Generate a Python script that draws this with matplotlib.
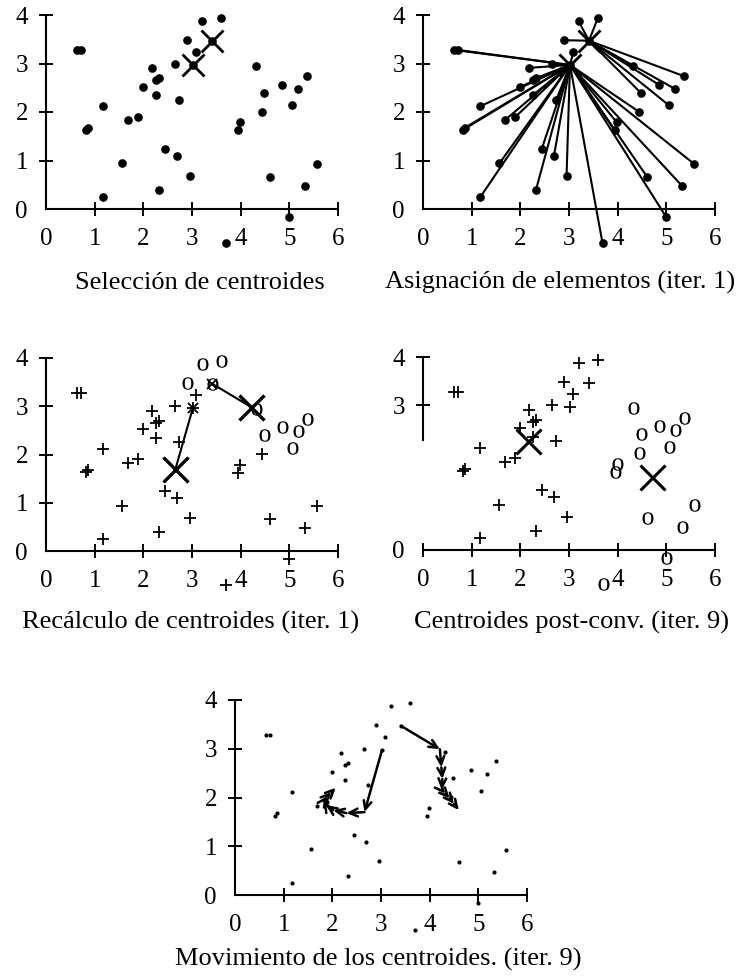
import numpy as np
import matplotlib
matplotlib.use("Agg")
import matplotlib.pyplot as plt
from matplotlib.textpath import TextPath
from matplotlib.font_manager import FontProperties
from matplotlib.path import Path

plt.rcParams['font.family'] = ['Liberation Serif', 'DejaVu Serif']

# ---------------- data ----------------
pts_x = [0.64, 0.71, 0.82, 0.87, 1.18, 1.18, 1.57, 1.68, 1.90, 2.00,
         2.18, 2.25, 2.33, 2.26, 2.32, 2.44, 2.65, 2.74, 2.69, 2.89,
         2.95, 3.09, 3.20, 3.59, 3.69, 3.94, 3.98, 4.32, 4.43, 4.47,
         4.60, 4.85, 5.05, 5.17, 5.00, 5.32, 5.36, 5.57, 3.02, 3.41]
pts_y = [3.28, 3.28, 1.63, 1.68, 2.12, 0.25, 0.94, 1.83, 1.90, 2.52,
         2.91, 2.66, 2.70, 2.35, 0.39, 1.24, 3.00, 2.25, 1.09, 3.48,
         0.69, 3.24, 3.87, 3.93, -0.71, 1.62, 1.79, 2.94, 2.01, 2.40,
         0.67, 2.56, 2.14, 2.48, -0.17, 0.48, 2.74, 0.93, 2.97, 3.47]

init_cx = [3.02, 3.41]
init_cy = [2.97, 3.47]
iter1_cx = [2.66, 4.22]
iter1_cy = [1.70, 2.98]
final_cx = [2.16, 4.70]
final_cy = [2.26, 1.52]

pathA_x = [3.02, 2.66, 2.29, 2.02, 1.87, 1.82, 1.90, 1.98, 2.07]
pathA_y = [2.97, 1.70, 1.68, 1.74, 1.84, 1.92, 2.03, 2.11, 2.20]
pathB_x = [3.41, 4.21, 4.24, 4.26, 4.25, 4.32, 4.41, 4.50, 4.60]
pathB_y = [3.47, 2.99, 2.62, 2.38, 2.16, 2.08, 1.98, 1.87, 1.74]

x_ticks = [0, 1, 2, 3, 4, 5, 6]
y_ticks = [0, 1, 2, 3, 4]

captions = ["Selección de centroides",
            "Asignación de elementos (iter. 1)",
            "Recálculo de centroides (iter. 1)",
            "Centroides post-conv. (iter. 9)",
            "Movimiento de los centroides. (iter. 9)"]

X = np.array(pts_x)
Y = np.array(pts_y)


def assign(cx, cy):
    d = (X[:, None] - np.array(cx)[None, :]) ** 2 + (Y[:, None] - np.array(cy)[None, :]) ** 2
    return np.argmin(d, axis=1)


# serif letter "o" as marker
fp = FontProperties(family='Liberation Serif')
tp = TextPath((0, 0), 'o', prop=fp, size=10)
verts = tp.vertices.copy()
verts -= np.array([(verts[:, 0].max() + verts[:, 0].min()) / 2,
                   (verts[:, 1].max() + verts[:, 1].min()) / 2])
o_marker = Path(verts, tp.codes)

# ---------------- figure ----------------
W, H = 746, 976
fig = plt.figure(figsize=(W / 100, H / 100), dpi=100)

XLIM = (-0.35, 6.3)
YLIM = (-0.95, 4.2)
TICKFS = 18
CAPFS = 19


def make_axes(x0, x6, y0, y4, ytk=None, ybounds=(0, 4), hide_x0=True):
    ppx = (x6 - x0) / 6.0
    ppy = (y0 - y4) / 4.0
    left = x0 + XLIM[0] * ppx
    right = x0 + XLIM[1] * ppx
    top = y0 - YLIM[1] * ppy
    bottom = y0 - YLIM[0] * ppy
    ax = fig.add_axes([left / W, 1 - bottom / H, (right - left) / W, (bottom - top) / H])
    ax.set_xlim(*XLIM)
    ax.set_ylim(*YLIM)
    ax.patch.set_alpha(0)
    for s in ('top', 'right'):
        ax.spines[s].set_visible(False)
    ax.spines['left'].set_position(('data', 0))
    ax.spines['bottom'].set_position(('data', 0))
    ax.spines['left'].set_bounds(*ybounds)
    ax.spines['bottom'].set_bounds(0, 6)
    for s in ('left', 'bottom'):
        ax.spines[s].set_linewidth(1.5)
    yt_vals = ytk if ytk is not None else y_ticks
    ax.set_xticks(x_ticks)
    ax.set_yticks(yt_vals)
    ax.set_xticklabels([str(t) for t in x_ticks])
    ax.set_yticklabels([str(t) for t in yt_vals])
    ax.tick_params(axis='both', direction='inout', length=10, width=1.4,
                   labelsize=TICKFS, colors='black')
    ax.tick_params(axis='x', pad=9)
    ax.tick_params(axis='y', pad=8)
    # hide the tick marks at the origin
    yt = ax.yaxis.get_major_ticks()[0]
    yt.tick1line.set_visible(False)
    if hide_x0:
        xt = ax.xaxis.get_major_ticks()[0]
        xt.tick1line.set_visible(False)
    return ax


def caption(text, xc, ybase):
    fig.text(xc / W, 1 - ybase / H, text, ha='center', va='baseline',
             fontsize=CAPFS, color='black')


# Panel 1
ax1 = make_axes(46, 338, 209, 15)
ax1.plot(pts_x, pts_y, 'o', color='black', ms=5.2, clip_on=False)
ax1.plot(init_cx, init_cy, 'x', color='black', ms=16, mew=2.0, clip_on=False)
caption(captions[0], 200, 289)

# Panel 2
ax2 = make_axes(423, 715, 209, 15)
lab0 = assign(init_cx, init_cy)
for i in range(len(pts_x)):
    c = lab0[i]
    ax2.plot([pts_x[i], init_cx[c]], [pts_y[i], init_cy[c]], '-', color='black', lw=1.5,
             clip_on=False)
ax2.plot(pts_x, pts_y, 'o', color='black', ms=5.2, clip_on=False)
ax2.plot(init_cx, init_cy, 'x', color='black', ms=16, mew=2.0, clip_on=False)
caption(captions[1], 560, 289)

# Panel 3
ax3 = make_axes(46, 338, 551, 358)
m0 = lab0 == 0
m1 = lab0 == 1
ax3.plot(X[m0], Y[m0], '+', color='black', ms=9, mew=1.3, clip_on=False)
ax3.plot(X[m1], Y[m1], ls='none', marker=o_marker, color='black', ms=9, mew=0, clip_on=False)
for k in range(2):
    ax3.plot([init_cx[k], iter1_cx[k]], [init_cy[k], iter1_cy[k]], '-', color='black', lw=1.5)
ax3.plot(init_cx, init_cy, 'x', color='black', ms=7, mew=1.3)
ax3.plot(iter1_cx, iter1_cy, 'x', color='black', ms=18, mew=2.4)
caption(captions[2], 191, 629)

# Panel 4
ax4 = make_axes(423, 715, 550, 357, ytk=[0, 3, 4], ybounds=(2.28, 4), hide_x0=False)
labf = assign(final_cx, final_cy)
f0 = labf == 0
f1 = labf == 1
ax4.plot(X[f0], Y[f0], '+', color='black', ms=9, mew=1.3, clip_on=False)
ax4.plot(X[f1], Y[f1], ls='none', marker=o_marker, color='black', ms=9, mew=0, clip_on=False)
ax4.plot(final_cx, final_cy, 'x', color='black', ms=18, mew=2.2)
caption(captions[3], 572, 629)

# Panel 5
ax5 = make_axes(235, 527, 895, 700)
ax5.plot(pts_x, pts_y, 'o', color='black', ms=2.0, clip_on=False)
for px, py in ((pathA_x, pathA_y), (pathB_x, pathB_y)):
    for i in range(len(px) - 1):
        ax5.annotate('', xy=(px[i + 1], py[i + 1]), xytext=(px[i], py[i]),
                     arrowprops=dict(arrowstyle='->,head_length=0.6,head_width=0.28',
                                     lw=1.8, color='black', shrinkA=0, shrinkB=0))
caption(captions[4], 378, 966)

fig.savefig('out.png', dpi=100)
